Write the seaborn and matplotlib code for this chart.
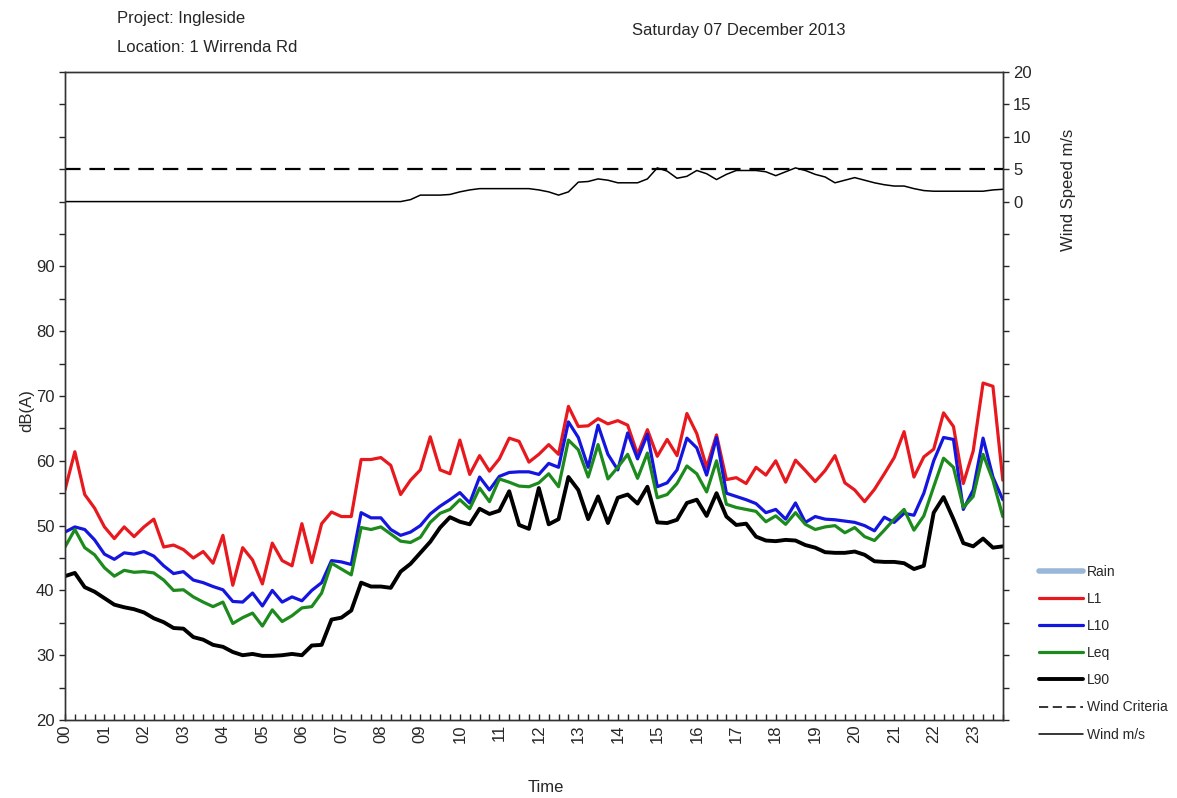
import numpy as np
import pandas as pd
import matplotlib.pyplot as plt
import seaborn as sns
from matplotlib.lines import Line2D
from matplotlib.ticker import MultipleLocator, FuncFormatter

# ----------------------------
# Data (15 minute intervals, 07 Dec 2013)
# ----------------------------
l1 = [55.5, 61.4, 54.8, 52.7, 49.8, 48.0, 49.8, 48.3, 49.8, 51.0,
      46.7, 47.0, 46.3, 45.0, 46.0, 44.2, 48.5, 40.8, 46.6, 44.7,
      41.0, 47.3, 44.6, 43.8, 50.3, 44.3, 50.3, 52.1, 51.4, 51.4,
      60.2, 60.2, 60.5, 59.3, 54.8, 57.0, 58.6, 63.7, 58.6, 58.0,
      63.2, 57.9, 60.8, 58.4, 60.3, 63.5, 63.0, 59.8, 61.0, 62.5,
      61.0, 68.4, 65.3, 65.4, 66.5, 65.7, 66.2, 65.5, 61.0, 64.8,
      60.7, 63.3, 60.8, 67.3, 64.2, 59.0, 64.0, 57.1, 57.4, 56.5,
      59.0, 57.8, 60.0, 56.7, 60.1, 58.5, 56.8, 58.5, 60.8, 56.6,
      55.5, 53.7, 55.6, 58.0, 60.5, 64.5, 57.5, 60.6, 61.8, 67.4,
      65.3, 56.5, 61.5, 72.0, 71.5, 57.0]

l10 = [49.0, 49.8, 49.4, 47.8, 45.6, 44.8, 45.8, 45.6, 46.0, 45.3,
       43.8, 42.6, 42.9, 41.6, 41.2, 40.6, 40.1, 38.3, 38.2, 39.6,
       37.6, 40.0, 38.2, 39.0, 38.4, 40.0, 41.2, 44.6, 44.4, 44.0,
       52.0, 51.2, 51.2, 49.4, 48.5, 49.0, 50.0, 51.8, 53.0, 54.0,
       55.1, 53.5, 57.5, 55.5, 57.6, 58.2, 58.3, 58.3, 57.9, 59.6,
       59.0, 66.0, 63.6, 59.0, 65.5, 61.0, 58.6, 64.3, 60.3, 64.1,
       56.0, 56.6, 58.6, 63.5, 62.0, 57.8, 63.6, 55.0, 54.5, 54.0,
       53.4, 52.0, 52.5, 51.0, 53.5, 50.5, 51.4, 51.0, 50.9, 50.7,
       50.5, 50.0, 49.2, 51.3, 50.5, 51.9, 51.6, 55.0, 60.0, 63.6,
       63.3, 52.5, 55.5, 63.5, 57.5, 54.0]

leq = [46.7, 49.4, 46.6, 45.5, 43.5, 42.2, 43.1, 42.8, 42.9, 42.7,
       41.6, 40.0, 40.1, 39.0, 38.2, 37.5, 38.2, 34.9, 35.8, 36.5,
       34.5, 37.0, 35.2, 36.1, 37.3, 37.5, 39.6, 44.2, 43.3, 42.4,
       49.7, 49.4, 49.8, 48.7, 47.6, 47.4, 48.2, 50.5, 51.9, 52.5,
       54.0, 52.6, 55.8, 53.7, 57.2, 56.7, 56.1, 56.0, 56.6, 58.0,
       56.0, 63.2, 61.7, 57.5, 62.5, 57.2, 59.0, 61.0, 57.3, 61.2,
       54.3, 54.8, 56.5, 59.2, 58.0, 55.2, 60.0, 53.3, 52.8, 52.5,
       52.2, 50.6, 51.5, 50.2, 52.0, 50.2, 49.4, 49.8, 50.0, 48.9,
       49.7, 48.3, 47.7, 49.3, 51.0, 52.5, 49.3, 51.5, 56.0, 60.4,
       59.0, 52.8, 54.5, 61.0, 57.0, 51.4]

l90 = [42.2, 42.7, 40.5, 39.8, 38.8, 37.8, 37.4, 37.1, 36.6, 35.7,
       35.1, 34.2, 34.1, 32.8, 32.4, 31.6, 31.3, 30.5, 30.0, 30.2,
       29.9, 29.9, 30.0, 30.2, 30.0, 31.5, 31.6, 35.5, 35.8, 36.9,
       41.2, 40.6, 40.6, 40.4, 42.9, 44.1, 45.8, 47.5, 49.7, 51.3,
       50.6, 50.2, 52.6, 51.8, 52.3, 55.3, 50.1, 49.5, 55.8, 50.2,
       51.0, 57.5, 55.5, 51.0, 54.5, 50.4, 54.3, 54.8, 53.4, 56.0,
       50.5, 50.4, 50.9, 53.5, 54.0, 51.5, 55.0, 51.4, 50.1, 50.3,
       48.3, 47.7, 47.6, 47.8, 47.7, 47.0, 46.6, 45.9, 45.8, 45.8,
       46.0, 45.5, 44.5, 44.4, 44.4, 44.2, 43.3, 43.8, 52.0, 54.4,
       51.0, 47.3, 46.8, 48.0, 46.6, 46.8]

wind = [0.0] * 35 + [
    0.3, 1.0, 1.0, 1.0, 1.1, 1.5, 1.8, 2.0, 2.0, 2.0,
    2.0, 2.0, 2.0, 1.8, 1.5, 1.0, 1.5, 3.0, 3.1, 3.5,
    3.3, 2.9, 2.9, 2.9, 3.5, 5.2, 4.7, 3.6, 3.9, 4.8,
    4.3, 3.4, 4.2, 4.8, 4.8, 4.8, 4.6, 4.0, 4.6, 5.2,
    4.8, 4.2, 3.8, 2.9, 3.3, 3.7, 3.3, 2.9, 2.6, 2.4,
    2.4, 2.0, 1.7, 1.6, 1.6, 1.6, 1.6, 1.6, 1.6, 1.8, 1.9]

wind_criteria = 5.0
hours = np.arange(len(l1)) / 4.0

df = pd.DataFrame({"Time": hours, "L1": l1, "L10": l10, "Leq": leq,
                   "L90": l90, "Wind": wind})

# ----------------------------
# General Settings
# ----------------------------
sns.set_style("ticks")
plt.rcParams["font.family"] = ["Liberation Sans", "DejaVu Sans"]
plt.rcParams["font.size"] = 12

fig = plt.figure(figsize=(11.77, 7.98), dpi=100)
ax = fig.add_axes([0.0552, 0.0977, 0.852 - 0.0552, 0.9098 - 0.0977])
ax2 = ax.twinx()

c_red, c_blue, c_green = "#E8191E", "#1515E0", "#1C8A1C"

sns.lineplot(data=df, x="Time", y="L1", ax=ax, color=c_red, linewidth=2.3)
sns.lineplot(data=df, x="Time", y="L10", ax=ax, color=c_blue, linewidth=2.3)
sns.lineplot(data=df, x="Time", y="Leq", ax=ax, color=c_green, linewidth=2.3)
sns.lineplot(data=df, x="Time", y="L90", ax=ax, color="black", linewidth=2.8)

sns.lineplot(data=df, x="Time", y="Wind", ax=ax2, color="black", linewidth=1.1)
ax2.axhline(wind_criteria, color="black", linewidth=1.6, dashes=(7, 4))

# ----------------------------
# Axes
# ----------------------------
ax.set_xlim(0, 23.75)
ax.set_ylim(20, 120)
ax2.set_ylim(-80, 20)

ax.xaxis.set_major_locator(MultipleLocator(1))
ax.xaxis.set_minor_locator(MultipleLocator(0.25))
ax.xaxis.set_major_formatter(FuncFormatter(lambda v, p: f"{int(round(v)):02d}"))
ax.tick_params(axis="x", which="both", direction="in", length=4, width=1,
               labelrotation=90, labelsize=12, pad=3)

ax.yaxis.set_major_locator(MultipleLocator(5))
ax.yaxis.set_major_formatter(FuncFormatter(
    lambda v, p: f"{int(v)}" if (v % 10 == 0 and v <= 90) else ""))
ax.tick_params(axis="y", direction="out", length=4, width=1, labelsize=12)

ax2.yaxis.set_major_locator(MultipleLocator(5))
ax2.yaxis.set_major_formatter(FuncFormatter(
    lambda v, p: f"{int(v)}" if v >= 0 else ""))
ax2.tick_params(axis="y", direction="out", length=4, width=1, labelsize=12)

for a in (ax, ax2):
    for s in a.spines.values():
        s.set_visible(True)
        s.set_linewidth(1.0)
        s.set_color("#333333")

ax.set_xlabel("")
ax.set_ylabel("dB(A)", fontsize=12)
ax.yaxis.set_label_coords(-0.033, 0.478)
ax2.set_ylabel("Wind Speed m/s", fontsize=12)
ax2.yaxis.set_label_coords(1.062, 0.818)

fig.text(546 / 1177, 1 - 787 / 798, "Time", ha="center", va="center", fontsize=12)
fig.text(117 / 1177, 1 - 18 / 798, "Project: Ingleside", ha="left", va="center", fontsize=12)
fig.text(117 / 1177, 1 - 48 / 798, "Location: 1 Wirrenda Rd", ha="left", va="center", fontsize=12)
fig.text(632 / 1177, 1 - 30 / 798, "Saturday 07 December 2013", ha="left", va="center", fontsize=12)

# ----------------------------
# Legend
# ----------------------------
handles = [
    Line2D([], [], color="#9AB6D8", linewidth=4),
    Line2D([], [], color=c_red, linewidth=2.3),
    Line2D([], [], color=c_blue, linewidth=2.3),
    Line2D([], [], color=c_green, linewidth=2.3),
    Line2D([], [], color="black", linewidth=2.8),
    Line2D([], [], color="black", linewidth=1.1, dashes=(6, 3)),
    Line2D([], [], color="black", linewidth=1.1),
]
labels = ["Rain", "L1", "L10", "Leq", "L90", "Wind Criteria", "Wind m/s"]
fig.legend(handles, labels, loc="upper left",
           bbox_to_anchor=(1026 / 1177, 1 - 552 / 798), frameon=False,
           fontsize=10, handlelength=3.2, labelspacing=0.95, handletextpad=0.3)

plt.savefig("out.png", dpi=100)
